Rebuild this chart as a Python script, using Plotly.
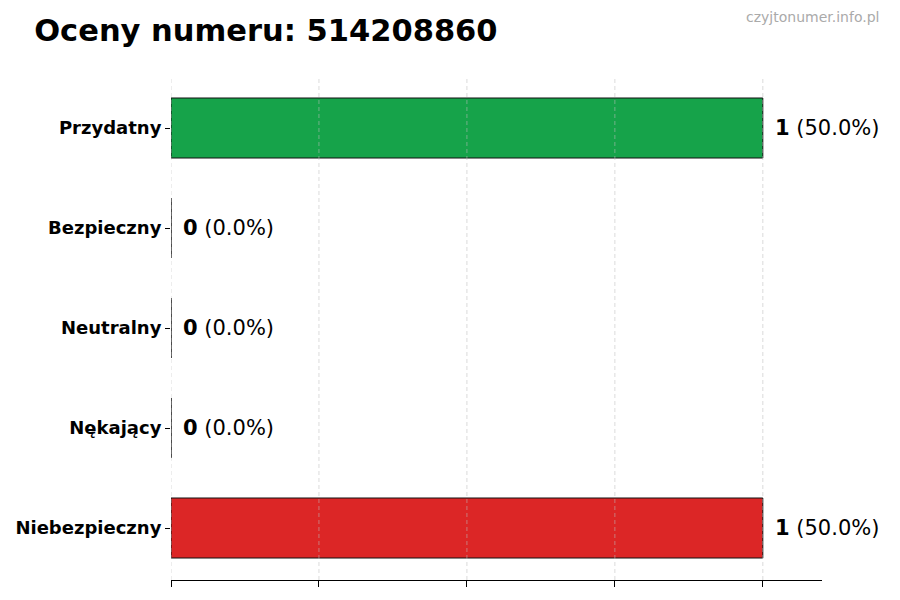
import plotly.graph_objects as go

# dane z wykresu
categories = ["Przydatny", "Bezpieczny", "Neutralny", "Nękający", "Niebezpieczny"]
counts = [1, 0, 0, 0, 1]
percents = [50.0, 0.0, 0.0, 0.0, 50.0]
colors = ["#16a34a", "#9ca3af", "#9ca3af", "#9ca3af", "#dc2626"]
grid_ticks = [0, 0.25, 0.5, 0.75, 1.0]
number = "514208860"

fig = go.Figure()
fig.add_trace(go.Bar(
    x=counts, y=categories, orientation="h",
    width=0.6,
    marker=dict(color=colors, line=dict(color="#111111", width=1)),
    hoverinfo="skip",
))

for c, n, p in zip(categories, counts, percents):
    fig.add_annotation(
        x=n, y=c, xanchor="left", yanchor="middle", xshift=10, showarrow=False,
        text="<b>%d</b> (%.1f%%)" % (n, p),
        font=dict(size=21, color="black"),
    )

# siatka nad słupkami (jak w matplotlib)
for t in grid_ticks:
    fig.add_shape(type="line", xref="x", yref="paper", x0=t, x1=t, y0=0, y1=1,
                  line=dict(color="rgba(190,190,190,0.55)", width=1, dash="4px,3px"),
                  layer="above")

fig.update_layout(
    width=900, height=600,
    margin=dict(l=171, r=78, t=76, b=20),
    plot_bgcolor="white", paper_bgcolor="white",
    font=dict(family="DejaVu Sans", color="black"),
    showlegend=False,
    title=dict(text="<b>Oceny numeru: %s</b>" % number, x=0.038, xanchor="left",
               y=0.95, yanchor="middle", font=dict(size=30.5, color="black")),
    xaxis=dict(range=[0, 1.1], tickvals=grid_ticks, showticklabels=False,
               ticks="outside", ticklen=6, tickcolor="black",
               showline=True, linecolor="black", linewidth=1,
               showgrid=False, zeroline=False),
    yaxis=dict(categoryorder="array", categoryarray=categories[::-1],
               range=[-0.52, 4.52], ticks="outside", ticklen=5, tickcolor="black",
               showline=False, showgrid=False, zeroline=False,
               tickprefix="<b>", ticksuffix="</b>",
               tickfont=dict(size=18, color="black", family="DejaVu Sans")),
)

fig.add_annotation(
    text="czyjtonumer.info.pl", xref="paper", yref="paper", x=1.0906, y=1.117,
    xanchor="right", yanchor="middle", showarrow=False,
    font=dict(size=14, color="#aaaaaa"),
)

fig.write_html("out.html", config={"displayModeBar": False},
               post_script="document.body.style.margin='0';")
